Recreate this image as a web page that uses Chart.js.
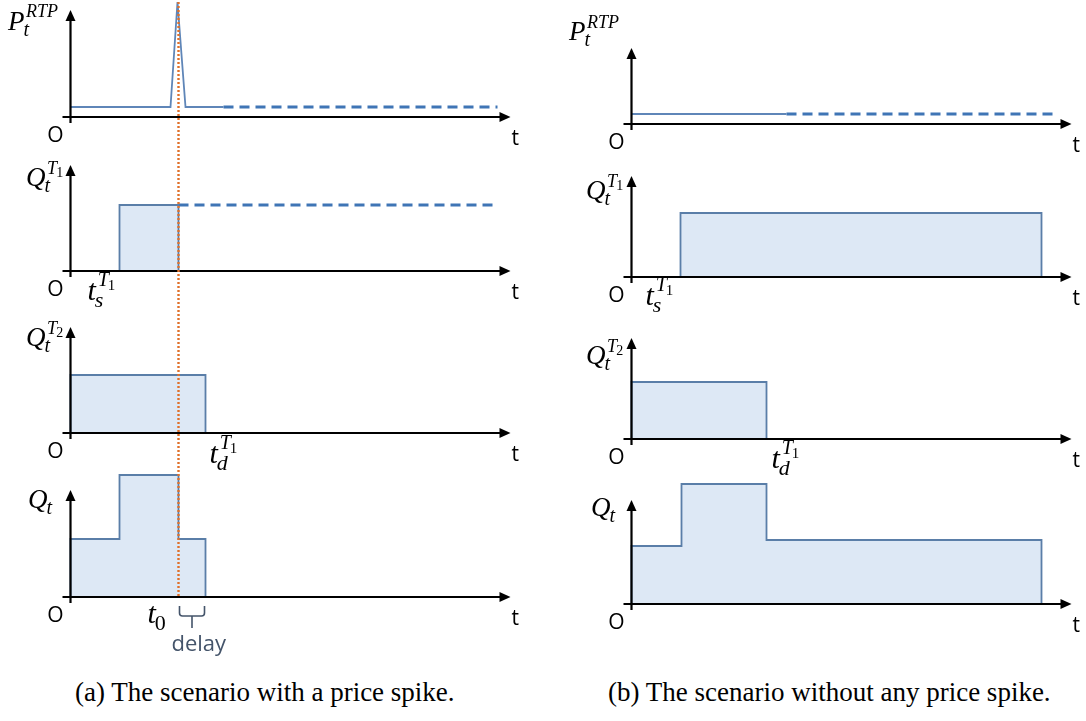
<!DOCTYPE html>
<html>
<head>
<meta charset="utf-8">
<script src="https://cdn.jsdelivr.net/npm/chart.js@4.4.1/dist/chart.umd.min.js"></script>
<style>
body{margin:0;background:#fff;width:1086px;height:721px;overflow:hidden;position:relative}
canvas{position:absolute;top:0}
#chartA{left:0}
#chartB{left:543px}
.cap{position:absolute;top:679px;font-family:"Liberation Serif";font-size:27px;line-height:1;color:#000;white-space:nowrap}
</style>
</head>
<body>
<canvas id="chartA" width="543" height="665"></canvas>
<canvas id="chartB" width="543" height="665"></canvas>
<div class="cap" style="left:75px">(a) The scenario with a price spike.</div>
<div class="cap" style="left:608px">(b) The scenario without any price spike.</div>
<script>
// key times (same in both scenarios)
const tStart=4.9, tZero=10.8, tDone=13.5, horizon=42.7, axisEnd=44;

// (a) scenario with a price spike
const aPriceT=[0,10.0,10.7,11.5,15.3];
const aPriceV=[1,1,11.5,1,1];
const aPriceDashT=[15.3,horizon];
const aPriceDashV=[1,1];
const aQ1T=[tStart,tStart,tZero,tZero];
const aQ1V=[0,6.6,6.6,0];
const aQ1DashT=[tZero,horizon];
const aQ1DashV=[6.6,6.6];
const aQ2T=[0,0,tDone,tDone];
const aQ2V=[0,5.8,5.8,0];
const aQT=[0,0,tStart,tStart,tZero,tZero,tDone,tDone];
const aQV=[0,5.8,5.8,12.2,12.2,5.8,5.8,0];

// (b) scenario without any price spike
const bPriceT=[0,15.5];
const bPriceV=[1,1];
const bPriceDashT=[15.5,horizon];
const bPriceDashV=[1,1];
const bQ1T=[tStart,tStart,41.0,41.0];
const bQ1V=[0,6.4,6.4,0];
const bQ2T=[0,0,tDone,tDone];
const bQ2V=[0,5.7,5.7,0];
const bQT=[0,0,5.0,5.0,tDone,tDone,41.0,41.0];
const bQV=[0,5.8,5.8,12.0,12.0,6.4,6.4,0];

// axis names: [base, sub, sup, index of sup]
const yNames=[["P","t","RTP",""],["Q","t","T","1"],["Q","t","T","2"],["Q","t","",""]];

const W=543, H=665;
const fillBlue="#dde8f5", edgeBlue="#5a7ea8", dashBlue="#3f75b5", lineBlue="#5f86b8";
const ink2="#44546a", dotOrange="#e0712b";

function fontFor(txt,size){
 return (/^[0-9]+$/.test(txt)?"":"italic ")+size+"px 'Liberation Serif'";
}

function mathLabel(ctx,x,y,n,size){
 ctx.textAlign="left";
 ctx.font=fontFor(n[0],size);
 ctx.fillText(n[0],x,y);
 let w=ctx.measureText(n[0]).width;
 let s2=Math.round(size*0.74), s3=Math.round(size*0.68);
 if(n[1]){ctx.font=fontFor(n[1],s2);ctx.fillText(n[1],x+w-1,y+size*0.24);}
 if(n[2]){
  let sx=x+w+size*0.06;
  ctx.font=fontFor(n[2],s3);
  ctx.fillText(n[2],sx,y-size*0.46);
  if(n[3]){
   let w2=ctx.measureText(n[2]).width;
   ctx.font=Math.round(size*0.5)+"px 'Liberation Serif'";
   ctx.fillText(n[3],sx+w2-1,y-size*0.34);
  }
 }
}

function arrows(panels,offset,extra){
 return {
  id:"arrows",
  afterDatasetsDraw(chart){
   let ctx=chart.ctx, xs=chart.scales.x;
   panels.forEach((p,i)=>{
    let ys=chart.scales["y"+i];
    let ox=xs.getPixelForValue(0), oy=ys.getPixelForValue(0);
    let tip=xs.getPixelForValue(axisEnd), top=ys.getPixelForValue(p.top);
    ctx.save();
    ctx.strokeStyle="#000";ctx.fillStyle="#000";ctx.lineWidth=2.2;
    ctx.beginPath();
    ctx.moveTo(ox-8,oy);ctx.lineTo(tip-8,oy);
    ctx.moveTo(ox,oy+6);ctx.lineTo(ox,top+8);
    ctx.stroke();
    ctx.beginPath();ctx.moveTo(tip,oy);ctx.lineTo(tip-11,oy-5);ctx.lineTo(tip-11,oy+5);ctx.closePath();ctx.fill();
    ctx.beginPath();ctx.moveTo(ox,top);ctx.lineTo(ox-5,top+11);ctx.lineTo(ox+5,top+11);ctx.closePath();ctx.fill();
    ctx.font="21px 'Open Sans'";
    ctx.textAlign="center";ctx.fillText("O",ox-15,oy+25);
    ctx.textAlign="left";ctx.fillText("t",tip+1,oy+28);
    mathLabel(ctx,p.lx-offset,p.ly,yNames[i],27);
    (p.ticks||[]).forEach(k=>{
     mathLabel(ctx,xs.getPixelForValue(k.t)+k.dx,oy+k.dy,k.name,30);
    });
    ctx.restore();
   });
   if(extra)extra(chart);
  }
 };
}

function series(t,v,panel,kind){
 let d={data:t.map((x,k)=>({x:x,y:v[k]})),yAxisID:"y"+panel,xAxisID:"x",pointRadius:0,tension:0,fill:false};
 if(kind=="box"){d.fill="origin";d.backgroundColor=fillBlue;d.borderColor=edgeBlue;d.borderWidth=1.8;}
 if(kind=="line"){d.borderColor=lineBlue;d.borderWidth=1.8;}
 if(kind=="dash"){d.borderColor=dashBlue;d.borderWidth=3;d.borderDash=[10,6];}
 return d;
}

function build(id,originX,panels,data,offset,extra){
 let scales={x:{type:"linear",display:false,min:-originX/10,max:(W-originX)/10}};
 panels.forEach((p,i)=>{scales["y"+i]={type:"linear",display:false,min:-(H-p.axis)/10,max:p.axis/10};});
 return new Chart(document.getElementById(id),{
  type:"line",
  data:{datasets:data},
  options:{responsive:false,animation:false,events:[],layout:{padding:0},scales:scales,
   plugins:{legend:{display:false},tooltip:{enabled:false}}},
  plugins:[arrows(panels,offset,extra)]
 });
}

const tsName=["t","s","T","1"], tdName=["t","d","T","1"], t0Name=["t","0","",""];

const panelsA=[
 {axis:117,top:10.7,lx:8,ly:29.6},
 {axis:271,top:10.6,lx:26,ly:186},
 {axis:433,top:10.6,lx:26,ly:346},
 {axis:597,top:10.7,lx:28,ly:508}
];
panelsA[1].ticks=[{t:tStart,dx:-32,dy:29,name:tsName}];
panelsA[2].ticks=[{t:tDone,dx:4,dy:30,name:tdName}];
panelsA[3].ticks=[{t:tZero,dx:-31,dy:26,name:t0Name}];

const panelsB=[
 {axis:124,top:7.6,lx:569,ly:40},
 {axis:277,top:10.1,lx:586,ly:199},
 {axis:439,top:10.1,lx:586,ly:364},
 {axis:604,top:10.4,lx:591,ly:516}
];
panelsB[1].ticks=[{t:tStart,dx:-35,dy:28,name:tsName}];
panelsB[2].ticks=[{t:tDone,dx:5,dy:29,name:tdName}];

function delayMarks(chart){
 let ctx=chart.ctx, xs=chart.scales.x, y0=chart.scales.y0, y3=chart.scales.y3;
 let x0=xs.getPixelForValue(tZero), x1=xs.getPixelForValue(tDone), mid=(x0+x1)/2;
 let base=y3.getPixelForValue(0);
 ctx.save();
 ctx.strokeStyle=ink2;ctx.lineWidth=1.6;
 ctx.beginPath();
 ctx.moveTo(x0+1,base+9);ctx.lineTo(x0+1,base+16);ctx.quadraticCurveTo(x0+1,base+19,x0+4,base+19);
 ctx.lineTo(x1-4,base+19);ctx.quadraticCurveTo(x1-1,base+19,x1-1,base+16);ctx.lineTo(x1-1,base+9);
 ctx.moveTo(mid,base+19);ctx.lineTo(mid,base+31);
 ctx.stroke();
 ctx.fillStyle=ink2;ctx.font="22px 'Open Sans'";ctx.textAlign="left";
 ctx.fillText("delay",x0-7,base+54);
 ctx.strokeStyle=dotOrange;ctx.lineWidth=2.4;ctx.setLineDash([2,2]);
 ctx.beginPath();ctx.moveTo(x0,y0.getPixelForValue(11.5));ctx.lineTo(x0,base);ctx.stroke();
 ctx.restore();
}

build("chartA",70.5,panelsA,[
 series(aPriceT,aPriceV,0,"line"),
 series(aPriceDashT,aPriceDashV,0,"dash"),
 series(aQ1T,aQ1V,1,"box"),
 series(aQ1DashT,aQ1DashV,1,"dash"),
 series(aQ2T,aQ2V,2,"box"),
 series(aQT,aQV,3,"box")
],0,delayMarks);

build("chartB",88.5,panelsB,[
 series(bPriceT,bPriceV,0,"line"),
 series(bPriceDashT,bPriceDashV,0,"dash"),
 series(bQ1T,bQ1V,1,"box"),
 series(bQ2T,bQ2V,2,"box"),
 series(bQT,bQV,3,"box")
],543,null);
</script>
</body>
</html>
